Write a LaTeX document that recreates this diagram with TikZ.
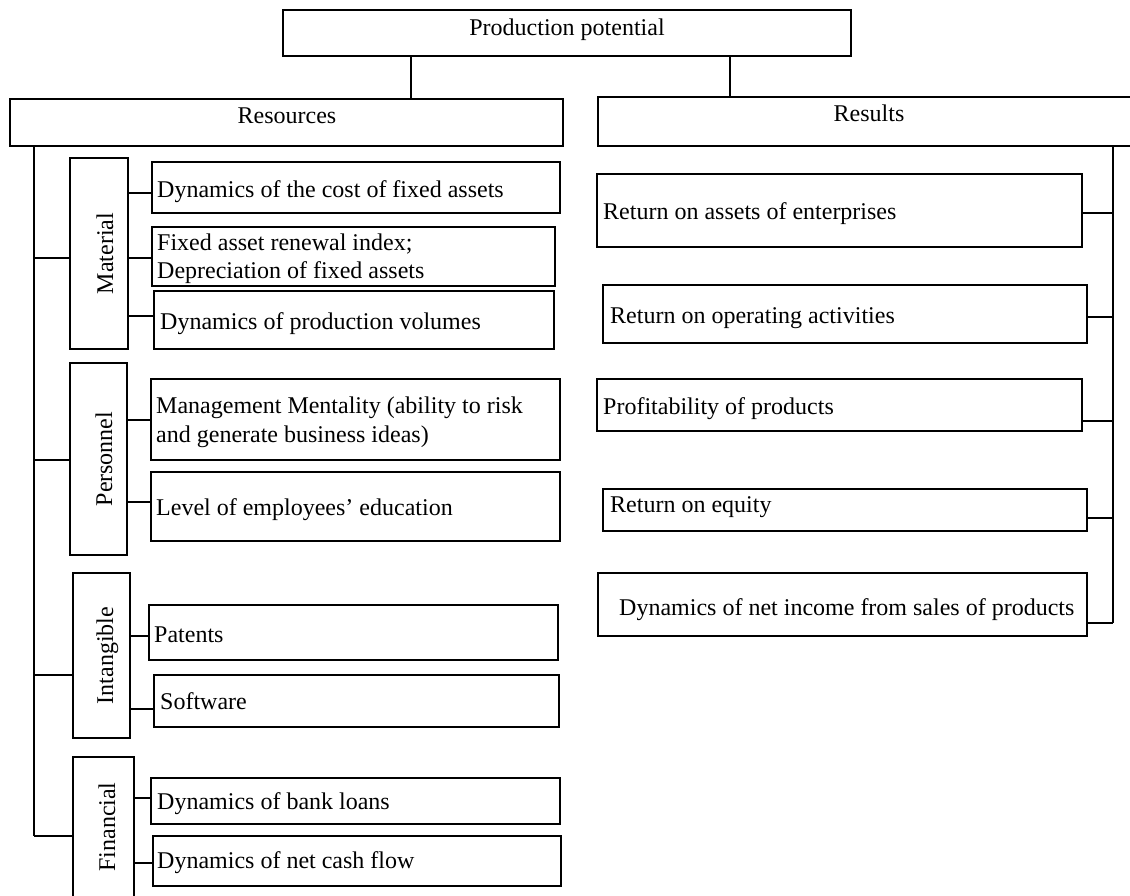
\documentclass[tikz,border=0pt]{standalone}
\usepackage{fontspec}
\setmainfont{Liberation Serif}
\tikzset{
  box/.style={draw=black, line width=1.3pt, inner sep=0pt, rectangle},
  txt/.style={inner sep=0pt, font=\fontsize{24}{28}\selectfont},
  vlab/.style={inner sep=0pt, rotate=90, anchor=base, font=\fontsize{24}{28}\selectfont},
  link/.style={draw=black, line width=1.3pt}
}
\newcommand\mybox[5]{\node[box, minimum width={(#4-#2)*1pt}, minimum height={(#5-#3)*1pt}] (#1) at ({(#2+#4)/2},{(#3+#5)/2}) {};}
\begin{document}
\begin{tikzpicture}[x=1pt,y=-1pt]
\useasboundingbox (0,0) rectangle (1130,895);
\clip (0,0) rectangle (1130,895);
\fill[white] (0,0) rectangle (1130,895);

% top level
\mybox{top}{283}{10}{851}{56}
\node[txt, anchor=base] (topt) at (567,35) {Production potential};
\mybox{res}{10}{99}{563}{146}
\node[txt, anchor=base] (rest) at (287,123) {Resources};
\mybox{rsl}{598}{97}{1145}{146}
\node[txt, anchor=base] (rslt) at (869,121) {Results};

\coordinate (j1) at (411,0);
\coordinate (j2) at (730,0);
\draw[link] (j1 |- top.south) -- (j1 |- res.north);
\draw[link] (j2 |- top.south) -- (j2 |- rsl.north);

% categories
\mybox{mat}{70}{158}{128}{349}
\node[vlab] (matt) at (113,253.5) {Material};
\mybox{per}{70}{363}{127}{555}
\node[vlab] (pert) at (112,459) {Personnel};
\mybox{int}{73}{573}{130}{738}
\node[vlab] (intt) at (113,655.5) {Intangible};
\mybox{fin}{73}{757}{134}{905}
\node[vlab] (fint) at (115,827) {Financial};

% left spine
\coordinate (ls) at (34,0);
\coordinate (lsend) at (34,836);
\draw[link] (ls |- res.south) -- (lsend);
\draw[link] (34,258) -- (mat.west |- 0,258);
\draw[link] (34,460) -- (per.west |- 0,460);
\draw[link] (34,675) -- (int.west |- 0,675);
\draw[link] (lsend) -- (fin.west |- lsend);

% material children
\mybox{m1}{152}{162}{560}{213}
\node[txt, anchor=base west] (m1t) at (157,197) {Dynamics of the cost of fixed assets};
\mybox{m2}{152}{227}{555}{286}
\node[txt, anchor=base west] (m2ta) at (157,250) {Fixed asset renewal index;};
\node[txt, anchor=base west] (m2tb) at (157,278) {Depreciation of fixed assets};
\mybox{m3}{154}{291}{554}{349}
\node[txt, anchor=base west] (m3t) at (160,329) {Dynamics of production volumes};
\draw[link] (mat.east |- 0,193) -- (m1.west |- 0,193);
\draw[link] (mat.east |- 0,258) -- (m2.west |- 0,258);
\draw[link] (mat.east |- 0,316) -- (m3.west |- 0,316);

% personnel children
\mybox{p1}{151}{379}{560}{460}
\node[txt, anchor=base west] (p1ta) at (156,413) {Management Mentality (ability to risk};
\node[txt, anchor=base west] (p1tb) at (156,442) {and generate business ideas)};
\mybox{p2}{151}{472}{560}{541}
\node[txt, anchor=base west] (p2t) at (156,515) {Level of employees’ education};
\draw[link] (per.east |- 0,420) -- (p1.west |- 0,420);
\draw[link] (per.east |- 0,502) -- (p2.west |- 0,502);

% intangible children
\mybox{i1}{149}{605}{558}{660}
\node[txt, anchor=base west] (i1t) at (154,642) {Patents};
\mybox{i2}{154}{675}{559}{727}
\node[txt, anchor=base west] (i2t) at (160,709) {Software};
\draw[link] (int.east |- 0,636) -- (i1.west |- 0,636);
\draw[link] (int.east |- 0,709) -- (i2.west |- 0,709);

% financial children
\mybox{f1}{151}{778}{560}{824}
\node[txt, anchor=base west] (f1t) at (157,809) {Dynamics of bank loans};
\mybox{f2}{153}{836}{561}{886}
\node[txt, anchor=base west] (f2t) at (157,868) {Dynamics of net cash flow};
\draw[link] (fin.east |- 0,798) -- (f1.west |- 0,798);
\draw[link] (fin.east |- 0,863) -- (f2.west |- 0,863);

% results children
\mybox{r1}{597}{174}{1082}{247}
\node[txt, anchor=base west] (r1t) at (603,219) {Return on assets of enterprises};
\mybox{r2}{603}{285}{1087}{343}
\node[txt, anchor=base west] (r2t) at (610,323) {Return on operating activities};
\mybox{r3}{597}{379}{1082}{431}
\node[txt, anchor=base west] (r3t) at (603,414) {Profitability of products};
\mybox{r4}{603}{489}{1087}{531}
\node[txt, anchor=base west] (r4t) at (610,512) {Return on equity};
\mybox{r5}{598}{573}{1087}{636}
\node[txt, anchor=base west] (r5t) at (619,615) {Dynamics of net income from sales of products};

\coordinate (rs) at (1113,0);
\coordinate (rsend) at (1113,623);
\draw[link] (rs |- rsl.south) -- (rsend);
\draw[link] (r1.east |- 0,213) -- (rs |- 0,213);
\draw[link] (r2.east |- 0,317) -- (rs |- 0,317);
\draw[link] (r3.east |- 0,421) -- (rs |- 0,421);
\draw[link] (r4.east |- 0,518) -- (rs |- 0,518);
\draw[link] (r5.east |- rsend) -- (rsend);
\end{tikzpicture}
\end{document}
